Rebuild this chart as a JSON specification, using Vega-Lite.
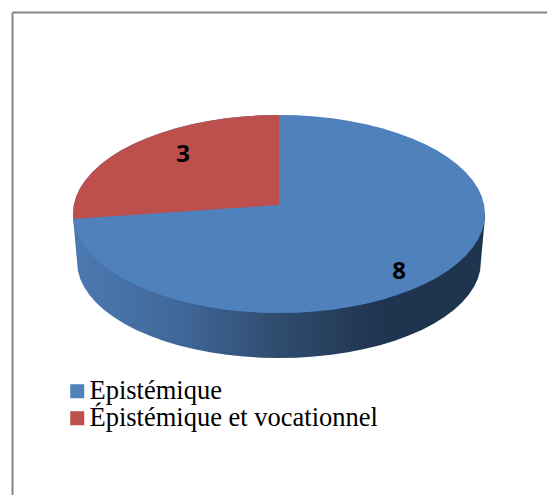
{
"$schema":"https://vega.github.io/schema/vega-lite/v6.json",
"width":535,"height":483,
"autosize":{"type":"none"},
"padding":{"left":12,"top":12,"right":0,"bottom":0},
"background":"white",
"view":{"stroke":null},
"datasets":{
"slices":[{"category":"Epistémique","value":8},{"category":"Épistémique et vocationnel","value":3}],
"wall":[
{"x":-1,"up":0,"low":-0.03},{"x":-0.98,"up":0,"low":-0.485},{"x":-0.9763,"up":0,"low":-0.5696},{"x":-0.9651,"up":0,"low":-0.6534},{"x":-0.9466,"up":0,"low":-0.736},{"x":-0.9209,"up":0,"low":-0.8167},{"x":-0.8882,"up":0,"low":-0.8949},{"x":-0.8487,"up":0,"low":-0.97},{"x":-0.8028,"up":0,"low":-1.0414},{"x":-0.7507,"up":0,"low":-1.1085},{"x":-0.693,"up":0,"low":-1.1709},{"x":-0.6299,"up":0,"low":-1.228},{"x":-0.5621,"up":0,"low":-1.2796},{"x":-0.49,"up":0,"low":-1.325},{"x":-0.4141,"up":0,"low":-1.3641},{"x":-0.3352,"up":0,"low":-1.3965},{"x":-0.2536,"up":0,"low":-1.4219},{"x":-0.1701,"up":0,"low":-1.4403},{"x":-0.0855,"up":0,"low":-1.4513},{"x":0,"up":0,"low":-1.455},
{"x":0.0855,"up":0,"low":-1.4513},{"x":0.1701,"up":0,"low":-1.4403},{"x":0.2536,"up":0,"low":-1.4219},{"x":0.3352,"up":0,"low":-1.3965},{"x":0.4141,"up":0,"low":-1.3641},{"x":0.49,"up":0,"low":-1.325},{"x":0.5621,"up":0,"low":-1.2796},{"x":0.6299,"up":0,"low":-1.228},{"x":0.693,"up":0,"low":-1.1709},{"x":0.7507,"up":0,"low":-1.1085},{"x":0.8028,"up":0,"low":-1.0414},{"x":0.8487,"up":0,"low":-0.97},{"x":0.8882,"up":0,"low":-0.8949},{"x":0.9209,"up":0,"low":-0.8167},{"x":0.9466,"up":0,"low":-0.736},{"x":0.9651,"up":0,"low":-0.6534},{"x":0.9763,"up":0,"low":-0.5696},{"x":0.98,"up":0,"low":-0.485},{"x":1,"up":0,"low":-0.03}
],
"face":[
{"category":"Epistémique","x":-1,"up":0,"low":0},{"category":"Epistémique","x":-0.9962,"up":0.0872,"low":-0.0872},{"category":"Epistémique","x":-0.9848,"up":0.1736,"low":-0.1736},{"category":"Epistémique","x":-0.9659,"up":0.2588,"low":-0.2588},{"category":"Epistémique","x":-0.9397,"up":0.342,"low":-0.342},{"category":"Epistémique","x":-0.9063,"up":0.4226,"low":-0.4226},{"category":"Epistémique","x":-0.866,"up":0.5,"low":-0.5},{"category":"Epistémique","x":-0.8192,"up":0.5736,"low":-0.5736},{"category":"Epistémique","x":-0.766,"up":0.6428,"low":-0.6428},{"category":"Epistémique","x":-0.7071,"up":0.7071,"low":-0.7071},{"category":"Epistémique","x":-0.6428,"up":0.766,"low":-0.766},{"category":"Epistémique","x":-0.5736,"up":0.8192,"low":-0.8192},{"category":"Epistémique","x":-0.5,"up":0.866,"low":-0.866},{"category":"Epistémique","x":-0.4226,"up":0.9063,"low":-0.9063},{"category":"Epistémique","x":-0.342,"up":0.9397,"low":-0.9397},{"category":"Epistémique","x":-0.2588,"up":0.9659,"low":-0.9659},{"category":"Epistémique","x":-0.1736,"up":0.9848,"low":-0.9848},{"category":"Epistémique","x":-0.0872,"up":0.9962,"low":-0.9962},{"category":"Epistémique","x":0,"up":1,"low":-1},
{"category":"Epistémique","x":0.0872,"up":0.9962,"low":-0.9962},{"category":"Epistémique","x":0.1736,"up":0.9848,"low":-0.9848},{"category":"Epistémique","x":0.2588,"up":0.9659,"low":-0.9659},{"category":"Epistémique","x":0.342,"up":0.9397,"low":-0.9397},{"category":"Epistémique","x":0.4226,"up":0.9063,"low":-0.9063},{"category":"Epistémique","x":0.5,"up":0.866,"low":-0.866},{"category":"Epistémique","x":0.5736,"up":0.8192,"low":-0.8192},{"category":"Epistémique","x":0.6428,"up":0.766,"low":-0.766},{"category":"Epistémique","x":0.7071,"up":0.7071,"low":-0.7071},{"category":"Epistémique","x":0.766,"up":0.6428,"low":-0.6428},{"category":"Epistémique","x":0.8192,"up":0.5736,"low":-0.5736},{"category":"Epistémique","x":0.866,"up":0.5,"low":-0.5},{"category":"Epistémique","x":0.9063,"up":0.4226,"low":-0.4226},{"category":"Epistémique","x":0.9397,"up":0.342,"low":-0.342},{"category":"Epistémique","x":0.9659,"up":0.2588,"low":-0.2588},{"category":"Epistémique","x":0.9848,"up":0.1736,"low":-0.1736},{"category":"Epistémique","x":0.9962,"up":0.0872,"low":-0.0872},{"category":"Epistémique","x":1,"up":0,"low":0},
{"category":"Épistémique et vocationnel","x":-1,"up":0,"low":-0.05},{"category":"Épistémique et vocationnel","x":-0.9962,"up":0.0872,"low":-0.0495},{"category":"Épistémique et vocationnel","x":-0.9848,"up":0.1736,"low":-0.048},{"category":"Épistémique et vocationnel","x":-0.9659,"up":0.2588,"low":-0.045},{"category":"Épistémique et vocationnel","x":-0.9397,"up":0.342,"low":-0.0415},{"category":"Épistémique et vocationnel","x":-0.9063,"up":0.4226,"low":-0.037},{"category":"Épistémique et vocationnel","x":-0.866,"up":0.5,"low":-0.031},{"category":"Épistémique et vocationnel","x":-0.8192,"up":0.5736,"low":-0.0245},{"category":"Épistémique et vocationnel","x":-0.766,"up":0.6428,"low":-0.017},{"category":"Épistémique et vocationnel","x":-0.7071,"up":0.7071,"low":-0.009},{"category":"Épistémique et vocationnel","x":-0.6428,"up":0.766,"low":0},{"category":"Épistémique et vocationnel","x":-0.5736,"up":0.8192,"low":0.01},{"category":"Épistémique et vocationnel","x":-0.5,"up":0.866,"low":0.0205},{"category":"Épistémique et vocationnel","x":-0.4226,"up":0.9063,"low":0.031},{"category":"Épistémique et vocationnel","x":-0.342,"up":0.9397,"low":0.043},{"category":"Épistémique et vocationnel","x":-0.2588,"up":0.9659,"low":0.0545},{"category":"Épistémique et vocationnel","x":-0.1736,"up":0.9848,"low":0.0665},{"category":"Épistémique et vocationnel","x":-0.0872,"up":0.9962,"low":0.079},{"category":"Épistémique et vocationnel","x":0,"up":1,"low":0.091}
]
},
"layer":[
{"data":{"name":"wall"},
 "mark":{"type":"area","color":{"gradient":"linear","x1":0,"y1":0,"x2":1,"y2":0,"stops":[{"offset":0,"color":"#4b79b1"},{"offset":0.25,"color":"#41689a"},{"offset":0.5,"color":"#2e4c6e"},{"offset":0.75,"color":"#1f344f"},{"offset":1,"color":"#1f344f"}]}},
 "encoding":{
  "x":{"field":"x","type":"quantitative","scale":{"domain":[-1.296,1.301],"nice":false,"zero":false},"axis":{"orient":"top","title":null,"domain":true,"domainColor":"#868686","domainWidth":2,"ticks":false,"labels":false,"grid":false}},
  "y":{"field":"up","type":"quantitative","stack":null,"scale":{"domain":[-2.838,2.04],"nice":false,"zero":false},"axis":{"orient":"left","title":null,"domain":true,"domainColor":"#868686","domainWidth":2,"ticks":false,"labels":false,"grid":false}},
  "y2":{"field":"low"}
 }},
{"data":{"name":"face"},
 "mark":{"type":"area"},
 "encoding":{
  "x":{"field":"x","type":"quantitative"},
  "y":{"field":"up","type":"quantitative","stack":null},
  "y2":{"field":"low"},
  "color":{"field":"category","type":"nominal","scale":{"domain":["Epistémique","Épistémique et vocationnel"],"range":["#4f81bd","#bd4f4c"]},
   "legend":{"title":null,"orient":"none","legendX":52,"legendY":366,"symbolType":"square","symbolSize":196,"symbolStrokeWidth":0,"symbolOpacity":1,"labelFont":"Liberation Serif","labelFontSize":26.5,"labelColor":"#000000","labelOffset":-1,"labelLimit":400,"rowPadding":0,"padding":0}}
 }},
{"data":{"name":"slices"},
 "transform":[{"filter":"datum.value === 8"}],
 "mark":{"type":"text","font":"Open Sans","fontWeight":"bold","fontSize":24,"color":"#000000"},
 "encoding":{"x":{"datum":0.583,"type":"quantitative"},"y":{"datum":-0.586,"type":"quantitative"},"text":{"field":"value","type":"quantitative"}}},
{"data":{"name":"slices"},
 "transform":[{"filter":"datum.value === 3"}],
 "mark":{"type":"text","font":"Open Sans","fontWeight":"bold","fontSize":24,"color":"#000000"},
 "encoding":{"x":{"datum":-0.466,"type":"quantitative"},"y":{"datum":0.596,"type":"quantitative"},"text":{"field":"value","type":"quantitative"}}}
]
}
